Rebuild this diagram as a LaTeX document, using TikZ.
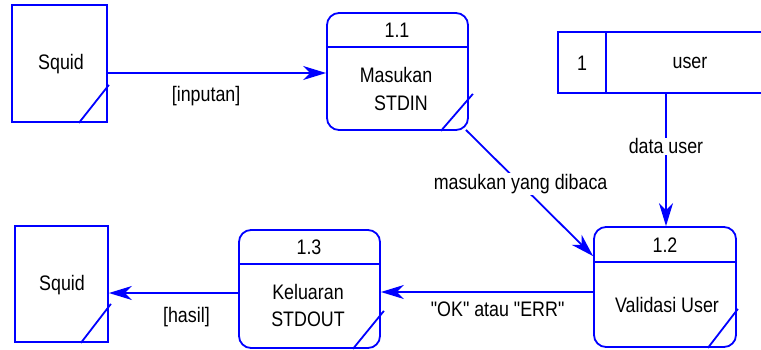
\documentclass[tikz,border=0pt]{standalone}
\usepackage{fontspec}
\newfontfamily\dfdfont{Liberation Sans}[FakeStretch=0.85]
\usetikzlibrary{arrows.meta,calc}
\definecolor{dfdblue}{RGB}{0,0,255}
\tikzset{
  ln/.style={draw=dfdblue, line width=1.8pt},
  ext/.style={ln, rectangle, inner sep=0pt},
  proc/.style={ln, rectangle, rounded corners=12pt, inner sep=0pt},
  txt/.style={inner sep=1pt, font=\dfdfont\fontsize{21}{24}\selectfont, text=black},
  lbl/.style={txt, fill=white},
  flow/.style={draw=dfdblue, line width=1.8pt, -{Stealth[length=23pt,width=14pt,inset=7pt]}},
}
\begin{document}
\begin{tikzpicture}[x=1pt,y=-1pt]
\useasboundingbox (0,0) rectangle (761,349);
% externals
\node[ext, minimum width=95pt, minimum height=117pt] (s1) at (59.5,63.5) {};
\node[txt] at (61,64) {Squid};
\draw[ln] ($(s1.south east)+(-29,0)$) -- ($(s1.south east)+(1,-38)$);
\node[ext, minimum width=93pt, minimum height=116pt] (s2) at (61.5,284) {};
\node[txt] at (62,285) {Squid};
\draw[ln] ($(s2.south east)+(-28,0)$) -- ($(s2.south east)+(2,-39)$);
% processes
\node[proc, minimum width=141pt, minimum height=117pt] (p11) at (397.5,71.5) {};
\draw[ln] (p11.west |- 0,47) -- (p11.east |- 0,47);
\node[txt] at (397,30) {1.1};
\node[txt] at (396,75) {Masukan};
\node[txt] at (401,103) {STDIN};
\draw[ln] ($(p11.south east)+(-28,0)$) -- ($(p11.south east)+(4,-37)$);

\node[proc, minimum width=142pt, minimum height=120pt] (p12) at (665,287) {};
\draw[ln] (p12.west |- 0,262) -- (p12.east |- 0,262);
\node[txt] at (665,245) {1.2};
\node[txt] at (667,305) {Validasi User};
\draw[ln] ($(p12.south east)+(-29,0)$) -- ($(p12.south east)+(1,-39)$);

\node[proc, minimum width=141pt, minimum height=118pt] (p13) at (309.5,289) {};
\draw[ln] (p13.west |- 0,264) -- (p13.east |- 0,264);
\node[txt] at (309,247) {1.3};
\node[txt] at (308,292) {Keluaran};
\node[txt] at (308,319) {STDOUT};
\draw[ln] ($(p13.south east)+(-28,0)$) -- ($(p13.south east)+(3,-38)$);
% data store
\draw[ln] (761,32) -- (558,32) -- (558,93) -- (761,93);
\draw[ln] (606,32) -- (606,93);
\node[txt] at (582,63) {1};
\node[txt] at (690,63) {user};
\coordinate (ds) at (666,93);
% flows
\draw[flow] (s1.east |- 0,73) -- node[txt, below=11pt, pos=0.45] {[inputan]} (p11.west |- 0,73);
\draw[flow] ($(p11.south east)+(-3,-1)$) -- node[lbl, pos=0.43] {masukan yang dibaca} ($(p12.north west)+(0,30)$);
\draw[flow] (ds) -- node[lbl, pos=0.4] {data user} (ds |- p12.north);
\draw[flow] (p12.west |- 0,292) -- node[txt, below=8pt, pos=0.45] {"OK" atau "ERR"} (p13.east |- 0,292);
\draw[flow] (p13.west |- 0,293) -- node[txt, below=12pt, pos=0.4] {[hasil]} (s2.east |- 0,293);
\end{tikzpicture}
\end{document}
